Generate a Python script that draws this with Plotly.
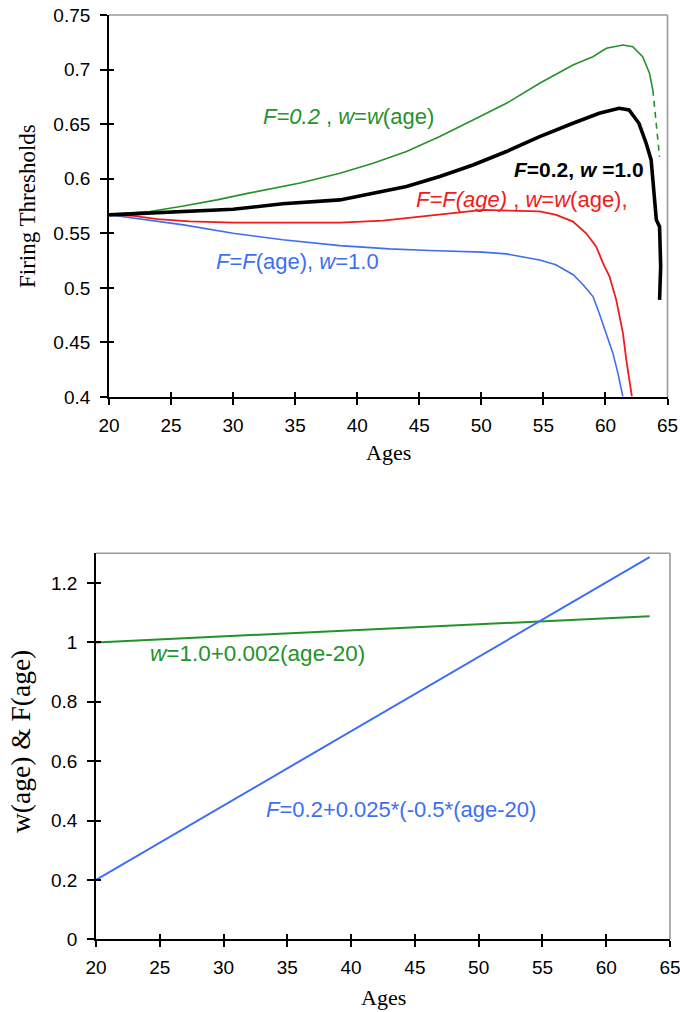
import plotly.graph_objects as go

# ---------------- data: top chart (Firing thresholds) ----------------
green_age = [20, 23.3, 26, 28.7, 31.35, 35.4, 38.6, 41.28, 43.97, 46.65, 49.33, 52.02,
             54.7, 57.38, 58.99, 60.07, 61.41, 62.2, 63.0, 63.55, 63.82]
green_thr = [0.5675, 0.570, 0.575, 0.5806, 0.587, 0.596, 0.605, 0.6142, 0.6249, 0.6386,
             0.6538, 0.6691, 0.6875, 0.7042, 0.7118, 0.7195, 0.7225, 0.721, 0.7118, 0.6966, 0.6813]
green_tail_age = [63.82, 64.1, 64.36]
green_tail_thr = [0.6813, 0.652, 0.620]

black_age = [20, 26.5, 30, 34, 38.6, 41.28, 43.97, 46.65, 49.33, 52.02, 54.7, 57.38,
             59.5, 61.1, 61.9, 62.7, 63.28, 63.68, 63.95, 64.1, 64.36, 64.45, 64.36]
black_thr = [0.5669, 0.5699, 0.572, 0.577, 0.5806, 0.5867, 0.5928, 0.602, 0.6126, 0.6249,
             0.6386, 0.6508, 0.660, 0.6645, 0.663, 0.6508, 0.6325, 0.6172, 0.5806, 0.5623,
             0.5561, 0.5195, 0.489]

red_age = [20, 22, 23.9, 26.5, 30, 35, 38.6, 42.08, 44.8, 47.45, 50.13, 54.7, 56.04, 57.38,
           58.45, 59.26, 59.8, 60.33, 60.87, 61.41, 61.68, 62.13]
red_thr = [0.567, 0.566, 0.563, 0.561, 0.5598, 0.5598, 0.5598, 0.5616, 0.565, 0.5684, 0.5714,
           0.570, 0.5669, 0.5607, 0.550, 0.5378, 0.5226, 0.5104, 0.489, 0.4585, 0.434, 0.4005]

blue_age = [20, 23.3, 26, 30, 34, 38.6, 42.6, 45.8, 50.1, 52.0, 54.7, 56.0, 57.4, 58.2,
            59.0, 59.5, 60.07, 60.6, 61.0, 61.4]
blue_thr = [0.567, 0.562, 0.5577, 0.550, 0.544, 0.5387, 0.5357, 0.5342, 0.5327, 0.5311,
            0.5256, 0.5211, 0.512, 0.5028, 0.492, 0.4768, 0.4585, 0.4402, 0.422, 0.4005]

top_yticks = [0.4, 0.45, 0.5, 0.55, 0.6, 0.65, 0.7, 0.75]
top_yticktext = ["0.4", "0.45", "0.5", "0.55", "0.6", "0.65", "0.7", "0.75"]
age_ticks = [20, 25, 30, 35, 40, 45, 50, 55, 60, 65]
age_ticktext = ["20", "25", "30", "35", "40", "45", "50", "55", "60", "65"]

# ---------------- data: bottom chart (w(age) & F(age)) ----------------
w_age = [20, 25, 30, 35, 40, 45, 50, 55, 60, 63.4]
w_val = [1.0, 1.01, 1.02, 1.03, 1.04, 1.05, 1.06, 1.07, 1.08, 1.088]
f_age = [20, 25, 30, 35, 40, 45, 50, 55, 60, 63.4]
f_val = [0.2, 0.325, 0.45, 0.575, 0.70, 0.825, 0.95, 1.075, 1.20, 1.287]

bot_yticks = [0, 0.2, 0.4, 0.6, 0.8, 1.0, 1.2]
bot_yticktext = ["0", "0.2", "0.4", "0.6", "0.8", "1", "1.2"]

# ---------------- styling ----------------
GREEN = "#24922a"
BLACK = "#000000"
RED = "#f21a1a"
BLUE = "#3d6ff5"
W, H = 680, 1012
SANS = "Liberation Sans, Arial, sans-serif"
SERIF = "Liberation Serif, Times New Roman, serif"

# pixel layout
top_x = (109, 667.5)
top_y = (15, 397)
bot_x = (96, 670)
bot_y = (553.3, 939.3)

def xd(p):
    return [p[0] / W, p[1] / W]

def yd(p):
    return [1 - p[1] / H, 1 - p[0] / H]

fig = go.Figure()

# top chart traces
fig.add_trace(go.Scatter(x=green_age, y=green_thr, mode="lines",
                         line=dict(color=GREEN, width=1.6), xaxis="x", yaxis="y"))
fig.add_trace(go.Scatter(x=green_tail_age, y=green_tail_thr, mode="lines",
                         line=dict(color=GREEN, width=1.6, dash="6px,5px"), xaxis="x", yaxis="y"))
fig.add_trace(go.Scatter(x=blue_age, y=blue_thr, mode="lines",
                         line=dict(color=BLUE, width=1.6), xaxis="x", yaxis="y"))
fig.add_trace(go.Scatter(x=red_age, y=red_thr, mode="lines",
                         line=dict(color=RED, width=1.8), xaxis="x", yaxis="y"))
fig.add_trace(go.Scatter(x=black_age, y=black_thr, mode="lines",
                         line=dict(color=BLACK, width=3.6), xaxis="x", yaxis="y"))

# bottom chart traces
fig.add_trace(go.Scatter(x=w_age, y=w_val, mode="lines",
                         line=dict(color=GREEN, width=2), xaxis="x2", yaxis="y2"))
fig.add_trace(go.Scatter(x=f_age, y=f_val, mode="lines",
                         line=dict(color=BLUE, width=2), xaxis="x2", yaxis="y2"))

# dummy traces so that overlay axes (inside ticks) get drawn
fig.add_trace(go.Scatter(x=[None], y=[None], xaxis="x3", yaxis="y3", hoverinfo="skip"))
fig.add_trace(go.Scatter(x=[None], y=[None], xaxis="x4", yaxis="y4", hoverinfo="skip"))

tickfont = dict(family=SANS, size=19, color="black")

common_x = dict(showgrid=False, zeroline=False, showline=True, linecolor="black", linewidth=1.8,
                ticks="outside", ticklen=6, tickwidth=1.5, tickcolor="black",
                tickvals=age_ticks, ticktext=age_ticktext, tickfont=tickfont, ticklabelstandoff=4,
                ticklabeloverflow="allow", automargin=False)
common_y = dict(showgrid=False, zeroline=False, showline=True, linecolor="black", linewidth=1.8,
                ticks="outside", ticklen=7, tickwidth=1.5, tickcolor="black",
                tickfont=tickfont, ticklabelstandoff=6, automargin=False)
inner_x = dict(showgrid=False, zeroline=False, showline=False, ticks="inside", ticklen=5,
               tickwidth=1.5, tickcolor="black", tickvals=age_ticks, showticklabels=False)
inner_y = dict(showgrid=False, zeroline=False, showline=False, ticks="inside", ticklen=5,
               tickwidth=1.5, tickcolor="black", showticklabels=False)

fig.update_layout(
    width=W, height=H,
    margin=dict(l=0, r=0, t=0, b=0, pad=0, autoexpand=False),
    paper_bgcolor="white", plot_bgcolor="white",
    showlegend=False,
    xaxis=dict(domain=xd(top_x), anchor="y", range=[20, 65], **common_x),
    yaxis=dict(domain=yd(top_y), anchor="x", range=[0.4, 0.75],
               tickvals=top_yticks, ticktext=top_yticktext, **common_y),
    xaxis2=dict(domain=xd(bot_x), anchor="y2", range=[20, 65], **common_x),
    yaxis2=dict(domain=yd(bot_y), anchor="x2", range=[0, 1.3],
                tickvals=bot_yticks, ticktext=bot_yticktext, **common_y),
    xaxis3=dict(overlaying="x", anchor="y", range=[20, 65], **inner_x),
    yaxis3=dict(overlaying="y", anchor="x", range=[0.4, 0.75], tickvals=top_yticks, **inner_y),
    xaxis4=dict(overlaying="x2", anchor="y2", range=[20, 65], **inner_x),
    yaxis4=dict(overlaying="y2", anchor="x2", range=[0, 1.3], tickvals=bot_yticks, **inner_y),
)

# gray top/right frame lines
for xr, yr in (("x domain", "y domain"), ("x2 domain", "y2 domain")):
    fig.add_shape(type="line", xref=xr, yref=yr, x0=0, x1=1, y0=1, y1=1,
                  line=dict(color="#9a9a9a", width=1.6), layer="below")
    fig.add_shape(type="line", xref=xr, yref=yr, x0=1, x1=1, y0=0, y1=1,
                  line=dict(color="#9a9a9a", width=1.6), layer="below")

anns = [
    # top chart labels
    dict(x=39.3, y=0.6566, xref="x", yref="y",
         text="<i>F=0.2</i> , <i>w</i>=<i>w</i>(age)", font=dict(family=SANS, size=22, color=GREEN)),
    dict(x=57.9, y=0.608, xref="x", yref="y",
         text="<b><i>F</i>=0.2, <i>w</i> =1.0</b>", font=dict(family=SANS, size=21, color=BLACK)),
    dict(x=53.3, y=0.5806, xref="x", yref="y",
         text="<i>F=F(age)</i> , <i>w</i>=<i>w</i>(age),", font=dict(family=SANS, size=22, color=RED)),
    dict(x=35.2, y=0.5238, xref="x", yref="y",
         text="<i>F</i>=<i>F</i>(age), <i>w</i>=1.0", font=dict(family=SANS, size=22, color=BLUE)),
    # bottom chart labels
    dict(x=32.66, y=0.964, xref="x2", yref="y2",
         text="<i>w</i>=1.0+0.002(age-20)", font=dict(family=SANS, size=22.5, color=GREEN)),
    dict(x=43.9, y=0.4387, xref="x2", yref="y2",
         text="<i>F</i>=0.2+0.025*(-0.5*(age-20)", font=dict(family=SANS, size=22, color=BLUE)),
    # axis titles
    dict(x=28 / W, y=1 - 206 / H, xref="paper", yref="paper", textangle=-90,
         text="Firing Thresholds", font=dict(family=SERIF, size=23, color="black")),
    dict(x=388 / W, y=1 - 452 / H, xref="paper", yref="paper",
         text="Ages", font=dict(family=SERIF, size=22, color="black")),
    dict(x=20 / W, y=1 - 742 / H, xref="paper", yref="paper", textangle=-90,
         text="w(age) &amp; F(age)", font=dict(family=SERIF, size=27.5, color="black")),
    dict(x=383 / W, y=1 - 997 / H, xref="paper", yref="paper",
         text="Ages", font=dict(family=SERIF, size=22, color="black")),
]
for a in anns:
    a.update(showarrow=False, xanchor="center", yanchor="middle")
    fig.add_annotation(**a)

fig.write_html(
    "out.html",
    config=dict(displayModeBar=False),
    post_script="document.body.style.margin='0px';document.body.style.padding='0px';",
)
